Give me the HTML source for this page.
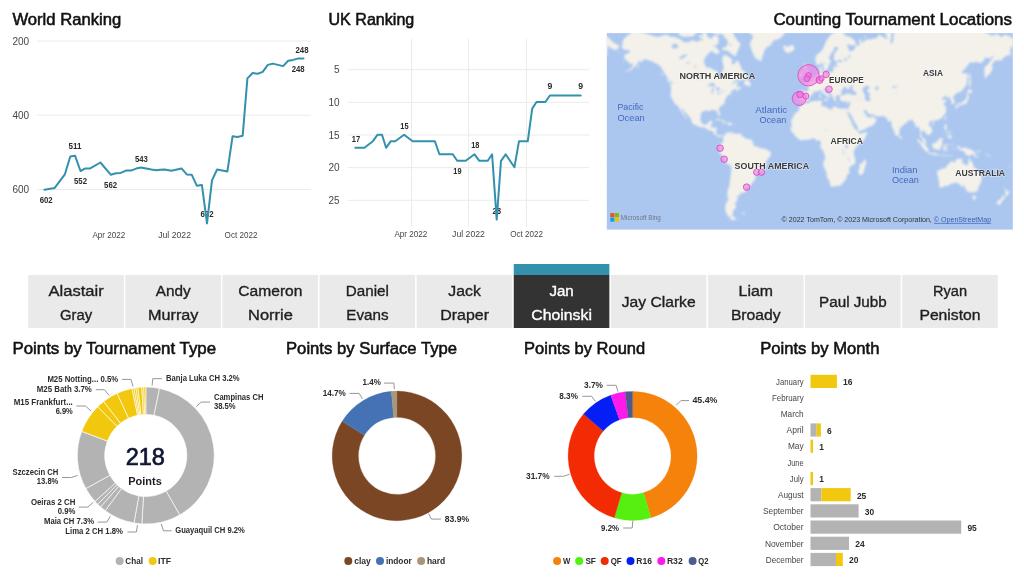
<!DOCTYPE html>
<html lang="en"><head><meta charset="utf-8"><title>Tennis Rankings Dashboard</title>
<style>
html,body{margin:0;padding:0;background:#fff;}
body{width:1024px;height:582px;overflow:hidden;font-family:"Liberation Sans", sans-serif;}
svg{display:block;font-family:"Liberation Sans", sans-serif;}
svg text{white-space:pre;}
.ttl{stroke:currentColor;}
text.ttl{stroke-width:0.55px;stroke:#111111;}
text.sl{paint-order:stroke;stroke-width:0.3px;}
</style></head><body>
<svg width="1024" height="582" viewBox="0 0 1024 582">
<rect width="1024" height="582" fill="#ffffff"/>
<text x="12.4" y="25.0" font-size="16.5" fill="#111111" textLength="108.8" lengthAdjust="spacingAndGlyphs" class="ttl">World Ranking</text>
<text x="328.5" y="25.0" font-size="16.5" fill="#111111" textLength="85.8" lengthAdjust="spacingAndGlyphs" class="ttl">UK Ranking</text>
<text x="1012.0" y="25.0" font-size="16.5" text-anchor="end" fill="#111111" textLength="238.6" lengthAdjust="spacingAndGlyphs" class="ttl">Counting Tournament Locations</text>
<text x="12.4" y="354.3" font-size="16.5" fill="#111111" textLength="203.7" lengthAdjust="spacingAndGlyphs" class="ttl">Points by Tournament Type</text>
<text x="286.0" y="354.3" font-size="16.5" fill="#111111" textLength="171.0" lengthAdjust="spacingAndGlyphs" class="ttl">Points by Surface Type</text>
<text x="524.1" y="354.3" font-size="16.5" fill="#111111" textLength="121.1" lengthAdjust="spacingAndGlyphs" class="ttl">Points by Round</text>
<text x="760.2" y="354.3" font-size="16.5" fill="#111111" textLength="119.2" lengthAdjust="spacingAndGlyphs" class="ttl">Points by Month</text>
<line x1="37" x2="311" y1="41.00" y2="41.00" stroke="#ebebeb" stroke-width="1"/>
<text x="12.5" y="44.6" font-size="10" fill="#484644">200</text>
<line x1="37" x2="311" y1="115.24" y2="115.24" stroke="#ebebeb" stroke-width="1"/>
<text x="12.5" y="118.8" font-size="10" fill="#484644">400</text>
<line x1="37" x2="311" y1="189.48" y2="189.48" stroke="#ebebeb" stroke-width="1"/>
<text x="12.5" y="193.1" font-size="10" fill="#484644">600</text>
<text x="108.8" y="237.8" font-size="8.2" text-anchor="middle" fill="#484644" textLength="32.8" lengthAdjust="spacingAndGlyphs">Apr 2022</text>
<text x="174.6" y="237.8" font-size="8.2" text-anchor="middle" fill="#484644" textLength="32.8" lengthAdjust="spacingAndGlyphs">Jul 2022</text>
<text x="241.0" y="237.8" font-size="8.2" text-anchor="middle" fill="#484644" textLength="32.8" lengthAdjust="spacingAndGlyphs">Oct 2022</text>
<text x="46.2" y="202.6" font-size="8.7" text-anchor="middle" font-weight="bold" fill="#2b2b2b" textLength="13.0" lengthAdjust="spacingAndGlyphs">602</text>
<text x="75.1" y="149.4" font-size="8.7" text-anchor="middle" font-weight="bold" fill="#2b2b2b" textLength="13.0" lengthAdjust="spacingAndGlyphs">511</text>
<text x="80.5" y="183.9" font-size="8.7" text-anchor="middle" font-weight="bold" fill="#2b2b2b" textLength="13.0" lengthAdjust="spacingAndGlyphs">552</text>
<text x="110.6" y="188.1" font-size="8.7" text-anchor="middle" font-weight="bold" fill="#2b2b2b" textLength="13.0" lengthAdjust="spacingAndGlyphs">562</text>
<text x="141.4" y="161.5" font-size="8.7" text-anchor="middle" font-weight="bold" fill="#2b2b2b" textLength="13.0" lengthAdjust="spacingAndGlyphs">543</text>
<text x="207.0" y="216.7" font-size="8.7" text-anchor="middle" font-weight="bold" fill="#2b2b2b" textLength="13.0" lengthAdjust="spacingAndGlyphs">692</text>
<text x="302.0" y="53.0" font-size="8.7" text-anchor="middle" font-weight="bold" fill="#2b2b2b" textLength="13.0" lengthAdjust="spacingAndGlyphs">248</text>
<text x="298.2" y="72.0" font-size="8.7" text-anchor="middle" font-weight="bold" fill="#2b2b2b" textLength="13.0" lengthAdjust="spacingAndGlyphs">248</text>
<polyline fill="none" stroke="#3391AE" stroke-width="2" stroke-linejoin="round" stroke-linecap="round" points="44.4,189.7 54.7,187.9 64.9,174.3 70.3,156.5 75.1,155.8 80.5,171.0 85.4,168.4 90.2,168.4 100.4,162.5 110.9,174.8 115.9,173.3 120.7,172.9 126.0,170.6 131.0,170.6 136.2,168.6 141.1,167.5 151.4,169.5 156.4,170.3 160.0,169.7 164.7,169.5 171.4,170.7 181.5,168.4 186.8,174.4 191.8,174.8 196.9,185.8 201.9,184.9 207.0,223.4 212.0,180.4 217.1,169.5 227.4,171.4 232.6,136.2 237.5,137.0 242.7,135.7 247.4,78.4 252.6,73.0 257.7,73.7 262.7,71.9 267.8,64.9 272.8,63.6 283.1,66.1 288.2,60.8 293.2,59.9 298.5,58.4 303.5,58.4"/>
<line x1="347.8" x2="589" y1="69.70" y2="69.70" stroke="#ebebeb" stroke-width="1"/>
<text x="339.5" y="73.3" font-size="10" text-anchor="end" fill="#484644">5</text>
<line x1="347.8" x2="589" y1="102.35" y2="102.35" stroke="#ebebeb" stroke-width="1"/>
<text x="339.5" y="105.9" font-size="10" text-anchor="end" fill="#484644">10</text>
<line x1="347.8" x2="589" y1="135.00" y2="135.00" stroke="#ebebeb" stroke-width="1"/>
<text x="339.5" y="138.6" font-size="10" text-anchor="end" fill="#484644">15</text>
<line x1="347.8" x2="589" y1="167.65" y2="167.65" stroke="#ebebeb" stroke-width="1"/>
<text x="339.5" y="171.2" font-size="10" text-anchor="end" fill="#484644">20</text>
<line x1="347.8" x2="589" y1="200.30" y2="200.30" stroke="#ebebeb" stroke-width="1"/>
<text x="339.5" y="203.9" font-size="10" text-anchor="end" fill="#484644">25</text>
<line x1="411.6" x2="411.6" y1="39" y2="226.7" stroke="#ebebeb" stroke-width="1"/>
<line x1="468.5" x2="468.5" y1="39" y2="226.7" stroke="#ebebeb" stroke-width="1"/>
<line x1="526.5" x2="526.5" y1="39" y2="226.7" stroke="#ebebeb" stroke-width="1"/>
<text x="410.8" y="237.2" font-size="8.2" text-anchor="middle" fill="#484644" textLength="32.8" lengthAdjust="spacingAndGlyphs">Apr 2022</text>
<text x="468.5" y="237.2" font-size="8.2" text-anchor="middle" fill="#484644" textLength="32.8" lengthAdjust="spacingAndGlyphs">Jul 2022</text>
<text x="526.7" y="237.2" font-size="8.2" text-anchor="middle" fill="#484644" textLength="32.8" lengthAdjust="spacingAndGlyphs">Oct 2022</text>
<text x="355.9" y="141.7" font-size="8.7" text-anchor="middle" font-weight="bold" fill="#2b2b2b" textLength="8.4" lengthAdjust="spacingAndGlyphs">17</text>
<text x="404.4" y="128.5" font-size="8.7" text-anchor="middle" font-weight="bold" fill="#2b2b2b" textLength="8.2" lengthAdjust="spacingAndGlyphs">15</text>
<text x="457.4" y="173.8" font-size="8.7" text-anchor="middle" font-weight="bold" fill="#2b2b2b" textLength="8.2" lengthAdjust="spacingAndGlyphs">19</text>
<text x="475.3" y="148.0" font-size="8.7" text-anchor="middle" font-weight="bold" fill="#2b2b2b" textLength="8.2" lengthAdjust="spacingAndGlyphs">18</text>
<text x="496.8" y="213.5" font-size="8.7" text-anchor="middle" font-weight="bold" fill="#2b2b2b" textLength="8.6" lengthAdjust="spacingAndGlyphs">28</text>
<text x="549.8" y="88.6" font-size="8.7" text-anchor="middle" font-weight="bold" fill="#2b2b2b">9</text>
<text x="580.7" y="88.6" font-size="8.7" text-anchor="middle" font-weight="bold" fill="#2b2b2b">9</text>
<polyline fill="none" stroke="#3391AE" stroke-width="2" stroke-linejoin="round" stroke-linecap="round" points="355.3,147.8 364.4,147.8 372.9,141.2 377.6,134.7 382.0,134.7 386.1,147.8 390.8,141.2 395.2,141.2 404.1,134.7 412.6,141.2 434.9,141.2 439.4,154.3 452.8,154.3 457.2,160.8 465.7,160.8 474.6,154.3 479.3,160.8 487.8,160.8 492.1,154.3 496.7,219.6 501.0,160.8 505.7,154.3 514.4,167.3 519.0,141.2 527.8,141.2 532.2,108.6 536.5,102.0 545.4,102.0 549.9,95.5 580.7,95.5"/>
<g id="map">
<defs><clipPath id="mclip"><rect x="606.8" y="33.1" width="406.0" height="196.5"/></clipPath>
<filter id="mblur" x="-5%" y="-5%" width="110%" height="110%"><feGaussianBlur stdDeviation="0.8"/></filter>
<g id="world">
<path fill="#F3F1EA" d="M621.7,47.2L623.4,39.5L627.3,35.8L632.9,31.5L634.6,29.7L639.7,31.5L644.1,33.1L652.0,35.4L657.6,37.3L660.9,36.1L666.5,34.5L669.9,36.4L675.5,37.3L681.1,39.8L683.3,41.9L688.9,42.2L692.3,40.1L696.8,41.9L700.1,40.1L702.4,40.7L702.9,29.0L705.7,30.8L706.9,35.4L709.1,38.0L711.3,38.9L713.6,35.4L717.5,35.4L718.8,38.9L718.1,43.9L715.3,45.6L713.0,45.3L713.6,50.1L710.8,51.4L708.0,53.9L705.2,57.6L703.7,62.1L704.6,63.8L706.3,67.4L710.2,67.8L713.6,70.1L717.5,71.0L717.8,75.2L719.2,77.1L720.5,78.5L721.6,77.1L721.4,72.4L723.9,68.4L723.1,64.3L722.2,59.9L723.1,55.2L727.0,55.6L730.4,58.3L732.1,59.2L731.7,63.6L734.0,64.7L736.5,61.0L737.7,60.3L740.5,65.8L741.6,69.5L744.9,71.8L746.1,74.3L747.4,76.2L746.6,78.0L742.7,80.3L738.2,80.1L735.4,80.3L732.6,82.7L730.2,86.0L733.2,83.2L737.1,82.0L737.9,83.6L736.5,84.9L737.3,86.9L739.3,87.3L741.2,88.3L742.7,85.9L742.4,87.7L738.8,89.6L736.2,91.3L735.8,90.0L737.3,88.1L734.9,88.8L732.6,90.4L730.9,91.6L730.6,93.1L731.5,94.0L729.3,94.8L727.0,95.7L726.8,97.3L725.7,98.7L724.8,100.6L725.0,102.8L723.9,104.0L722.0,105.2L720.5,106.6L719.0,108.3L718.8,110.3L719.7,112.8L720.2,114.7L719.7,116.3L719.0,116.2L718.3,115.0L717.3,113.1L717.2,111.3L715.8,110.3L714.1,110.5L712.5,109.7L710.8,109.9L709.9,111.3L708.5,111.3L707.1,110.8L704.8,110.6L703.5,111.3L701.5,112.8L700.8,114.7L700.5,117.8L700.4,119.9L701.0,121.7L702.2,123.6L703.5,124.3L704.4,124.8L706.3,124.3L708.0,123.8L708.5,121.7L710.8,120.8L712.5,120.8L711.9,122.9L711.6,124.8L710.4,127.3L713.6,127.5L715.8,127.6L716.7,128.6L716.3,131.4L716.0,133.1L717.2,134.7L718.3,135.4L720.3,135.2L721.4,134.7L723.3,135.8L723.1,137.0L722.2,136.2L720.5,135.8L720.0,137.2L718.6,137.0L716.9,136.2L716.2,135.6L714.7,134.2L713.8,133.7L713.0,132.0L711.9,130.7L709.7,130.2L707.4,129.7L705.5,127.9L704.1,127.1L702.4,127.7L700.1,127.1L697.9,126.2L695.9,125.2L693.6,124.3L691.9,122.9L691.6,120.8L690.8,118.8L688.9,116.2L687.3,114.7L686.1,113.1L684.2,111.7L683.3,109.2L681.4,108.0L681.4,109.6L682.8,111.8L683.9,113.4L685.2,115.9L686.4,117.6L687.3,118.9L686.5,119.0L684.5,116.8L684.2,115.3L682.2,113.7L681.7,112.2L680.2,110.3L679.1,108.0L678.6,106.7L677.4,105.2L674.9,104.3L673.5,101.5L672.7,100.0L671.2,97.3L670.7,95.8L670.7,92.8L671.0,89.7L671.0,86.9L670.2,83.6L672.1,83.6L672.7,85.2L672.7,82.4L671.0,81.0L668.2,78.9L666.5,76.2L664.0,72.4L662.6,69.9L660.4,66.4L658.1,64.3L655.9,63.6L653.3,61.7L649.7,60.8L646.4,59.4L643.8,59.2L642.1,61.4L639.9,62.8L640.6,58.7L638.5,62.1L637.2,64.3L634.6,66.8L632.4,69.1L629.6,70.6L626.8,71.8L625.3,72.2L627.9,69.9L630.1,68.9L632.4,66.4L633.7,63.6L631.8,64.1L628.7,63.6L628.2,61.0L625.7,59.9L624.0,56.8L624.9,54.4L627.3,53.4L629.6,52.4L629.6,49.9L626.8,50.1L623.6,49.6L621.7,47.2ZM720.3,21.2L724.8,25.0L729.3,28.7L733.2,33.1L734.9,37.3L740.5,43.9L738.8,48.8L736.5,53.4L735.4,56.6L733.2,54.9L729.8,52.4L726.5,50.1L722.8,50.4L722.5,48.3L727.0,46.1L728.1,41.0L725.3,38.0L722.0,33.5L718.1,34.5L714.7,33.5L710.2,29.0L709.7,23.5L714.7,20.4L720.3,21.2ZM677.7,27.2L684.5,23.5L690.1,22.4L692.9,29.0L696.2,34.1L692.3,36.4L687.8,36.7L682.8,36.7L679.4,35.1L678.3,32.1L677.7,27.2ZM669.3,27.2L672.1,18.8L678.9,18.8L680.0,23.5L675.5,29.0L671.6,29.7L669.3,27.2ZM712.5,47.5L714.7,45.6L716.4,48.0L719.2,50.9L719.7,52.4L716.9,54.2L714.1,52.9L712.5,51.4L712.5,47.5ZM698.5,36.7L701.3,34.8L702.9,37.3L701.3,38.6L698.5,36.7ZM743.5,84.6L744.6,82.0L745.7,79.6L747.6,77.8L747.3,80.3L749.4,81.5L750.3,83.2L750.8,85.4L749.6,86.2L747.7,85.9L746.6,84.9L743.5,84.6ZM666.2,79.2L668.8,79.9L670.5,81.7L671.7,83.4L669.9,82.9L668.2,81.5L666.2,79.2ZM660.9,73.0L662.4,73.4L663.0,76.2L661.7,74.9ZM636.9,66.4L639.3,65.3L639.1,67.0L637.4,67.8ZM737.7,80.8L740.5,81.7L740.7,82.2L738.4,81.7ZM737.9,86.0L740.5,86.7L739.9,87.3L738.2,86.7ZM714.8,120.4L716.4,119.1L718.6,118.8L720.9,119.4L723.1,120.5L725.0,121.4L726.8,122.3L725.9,122.7L723.1,122.7L723.1,121.9L721.6,120.8L719.2,120.2L717.5,119.6L715.8,120.4L714.8,120.4ZM726.6,124.5L727.9,122.7L729.8,122.7L731.7,123.2L733.3,124.3L731.7,124.5L730.2,125.4L728.7,124.8L726.6,124.5ZM722.2,124.5L723.7,124.4L724.6,125.0L723.4,125.2L722.2,124.8ZM734.6,124.4L736.3,124.5L736.2,125.0L734.6,125.0ZM723.3,135.8L723.9,136.5L725.0,134.8L725.3,133.6L726.7,132.9L728.1,132.6L729.5,131.6L730.0,132.9L729.5,134.2L730.2,135.2L730.4,133.3L731.5,131.8L733.2,132.9L733.7,133.7L736.0,133.6L737.7,134.0L739.9,133.4L741.0,134.2L741.8,135.9L743.8,136.7L745.7,138.8L748.3,138.9L750.8,139.6L752.2,140.6L753.0,143.0L753.9,144.6L752.8,145.5L754.5,145.7L755.8,146.6L757.8,146.7L760.1,148.2L761.7,148.2L763.4,148.7L765.1,148.7L766.8,149.6L768.5,151.0L770.4,151.3L770.9,153.7L770.5,155.8L769.0,157.6L767.9,159.0L766.4,160.4L766.2,163.1L766.0,165.6L765.1,168.1L764.0,170.5L762.9,172.0L761.2,172.1L759.5,172.7L757.8,173.6L756.1,174.9L755.4,176.7L755.4,178.8L753.9,180.7L752.8,182.4L751.4,183.9L750.0,186.0L748.5,187.3L746.8,187.1L744.9,186.4L744.4,186.2L745.7,187.9L746.1,189.5L745.3,191.9L742.7,192.9L740.2,193.0L740.1,195.5L737.1,195.8L737.3,197.9L738.6,198.3L737.1,199.7L736.5,202.1L734.3,203.7L736.0,205.6L736.0,207.3L734.0,210.0L732.6,211.8L733.2,214.5L732.3,215.0L730.6,215.4L730.4,217.3L728.7,216.7L727.6,215.4L726.1,213.0L725.3,209.5L725.3,205.3L726.8,202.1L728.1,200.2L728.4,197.4L727.2,196.7L727.5,193.7L727.5,190.9L728.4,188.1L729.5,185.4L729.8,182.0L729.9,179.5L730.6,176.3L730.9,173.2L731.3,169.6L731.2,166.6L729.9,165.4L728.1,164.2L725.7,162.8L724.4,161.1L723.4,159.0L722.3,156.8L721.2,154.5L720.3,153.1L719.0,152.2L718.8,150.5L720.0,149.3L720.3,148.4L719.2,148.0L719.4,146.6L720.2,145.3L720.3,144.5L721.5,143.8L722.0,142.7L723.3,141.2L723.1,139.3L723.2,137.9L722.7,137.3L723.3,135.8ZM733.1,215.2L733.5,216.3L734.2,217.6L736.9,219.0L735.4,219.8L733.2,220.2L730.9,219.6L729.3,218.2L730.6,217.6L731.3,216.7L731.5,215.6L733.1,215.2ZM741.6,213.0L744.9,212.8L744.4,214.3L741.8,214.1ZM740.6,133.4L741.7,133.3L741.6,134.1L740.6,134.1ZM728.1,-1.8L733.7,10.0L741.6,10.9L744.9,15.4L748.3,25.4L748.9,32.5L752.2,34.8L753.0,37.3L750.0,42.7L750.5,46.9L751.9,50.9L753.9,55.2L755.6,58.7L758.4,59.6L760.1,61.2L761.5,61.0L762.0,57.6L763.4,53.9L764.5,49.9L767.3,46.9L770.7,45.3L773.5,40.4L778.5,39.2L781.3,37.3L784.7,33.5L783.6,29.0L785.3,25.4L786.4,19.6L788.1,10.9L788.6,0.9L789.7,-10.8L776.3,-43.7L742.7,-25.2L728.1,-1.8ZM782.7,47.2L784.7,45.0L786.9,46.9L789.5,45.9L791.8,44.7L793.4,46.1L794.7,48.6L793.1,50.7L790.3,52.2L788.7,52.9L786.9,52.4L784.6,51.9L785.4,50.4L783.0,49.1L785.3,48.0L782.7,47.2ZM803.5,80.5L805.2,79.9L806.5,79.4L808.2,79.4L810.2,79.2L811.5,78.5L810.6,78.0L811.8,75.8L810.2,75.2L810.0,74.1L809.7,72.8L808.3,71.4L807.7,69.7L806.3,69.5L807.1,68.4L807.7,66.2L805.6,66.0L806.3,64.1L804.3,64.1L803.4,66.0L803.6,68.4L803.6,70.6L804.5,71.4L806.0,71.6L806.5,73.7L806.3,74.7L804.9,74.7L805.3,76.4L804.1,77.4L806.3,78.2L805.1,78.7L803.5,80.5ZM803.1,71.0L803.7,72.6L803.0,74.5L802.8,76.5L800.9,77.6L798.9,78.0L798.4,76.7L799.4,74.9L798.7,73.0L800.6,72.2L800.7,71.0L803.1,71.0ZM799.8,100.8L799.3,98.4L800.0,96.3L800.0,93.9L799.5,92.1L800.9,91.0L803.7,91.3L806.0,91.3L807.9,91.4L808.4,89.6L808.6,87.3L807.3,85.4L804.7,84.1L804.7,83.0L806.5,82.7L808.1,82.9L807.9,81.2L808.7,81.7L810.1,81.5L811.6,80.3L811.9,79.1L813.6,78.2L814.7,76.7L815.3,75.2L817.5,74.3L819.2,73.7L819.8,72.8L819.5,70.4L819.0,68.2L819.4,67.2L821.7,66.0L821.3,68.4L822.0,69.5L821.1,71.0L820.8,71.8L822.2,73.0L823.7,72.6L825.4,73.2L825.9,73.6L828.2,72.8L830.4,71.8L831.7,72.6L832.3,71.6L833.4,70.8L833.4,67.8L834.2,66.2L835.3,66.0L836.0,67.4L837.1,67.0L837.1,64.7L836.2,63.8L836.2,62.8L838.5,61.9L841.3,62.1L842.9,61.0L841.3,59.9L839.0,60.1L837.3,61.0L835.4,61.2L833.9,59.4L834.0,57.3L833.8,55.2L835.1,52.4L837.9,48.8L838.2,47.2L836.2,46.7L834.5,47.2L833.8,50.1L831.7,52.7L829.8,55.4L829.2,58.7L831.0,61.0L830.1,63.2L828.6,64.9L828.4,67.4L827.6,69.3L826.1,69.7L825.8,70.6L824.5,70.6L824.1,68.9L823.1,66.0L822.4,63.4L821.8,62.1L820.9,63.2L819.4,64.9L817.7,65.3L816.2,63.8L815.5,61.0L815.5,58.3L815.7,55.9L817.7,54.2L819.8,52.2L821.7,50.7L823.3,48.0L824.5,45.3L826.1,41.3L827.8,38.6L829.5,36.4L831.7,34.1L835.1,32.1L838.5,30.4L841.8,30.8L844.6,33.1L843.5,34.8L846.9,36.1L850.2,37.0L855.3,41.0L856.0,43.9L854.7,45.6L851.9,45.3L848.5,44.5L846.9,44.5L848.5,48.8L848.9,50.4L851.9,51.7L852.5,49.9L854.7,49.9L854.7,47.5L856.9,45.0L859.2,45.9L859.5,41.9L859.2,38.9L861.4,39.5L861.4,43.6L863.7,41.6L867.0,39.2L870.4,39.5L873.7,38.6L877.1,38.0L878.2,34.8L881.6,36.1L884.9,38.0L887.2,39.5L886.4,35.8L884.9,31.5L884.9,25.4L888.3,22.4L891.7,29.0L891.1,37.3L890.5,43.3L892.6,43.3L893.3,38.9L894.5,27.2L899.5,21.6L907.3,15.4L921.9,3.6L936.5,19.6L949.9,21.6L955.5,30.8L966.7,25.0L977.9,29.0L989.1,34.1L991.3,35.4L998.1,34.1L1000.9,37.3L1004.8,34.8L1009.3,36.1L1011.5,37.6L1014.9,41.0L1017.7,43.3L1021.0,45.0L1023.0,45.9L1021.6,47.5L1019.9,50.1L1016.5,49.4L1013.2,47.5L1012.1,45.6L1010.4,48.3L1011.5,49.1L1009.8,50.1L1010.9,55.2L1008.1,55.2L1004.8,56.8L1002.5,58.7L1000.9,61.0L998.1,59.9L995.8,61.0L994.1,61.0L993.0,63.6L991.3,65.6L992.7,66.2L992.2,69.1L991.3,71.4L989.1,74.9L987.4,75.6L985.4,78.9L984.3,74.3L984.1,69.5L985.2,66.4L987.4,64.9L990.8,60.3L993.0,57.6L993.6,55.2L989.7,58.7L985.7,57.3L982.9,61.7L980.1,63.2L977.3,61.9L973.4,62.5L970.1,62.5L967.3,65.8L964.5,69.5L961.4,72.0L963.9,73.7L966.1,73.0L967.8,75.2L967.0,78.9L967.3,83.2L965.6,86.0L963.3,88.9L961.4,91.3L958.9,92.5L956.4,93.1L955.2,94.8L952.7,97.0L953.8,99.0L954.8,101.1L954.6,103.3L952.7,104.0L951.4,104.3L951.6,102.2L951.9,100.8L949.9,99.7L950.2,97.3L949.1,96.7L946.5,98.0L945.6,97.3L946.5,95.7L945.2,95.4L943.0,97.7L941.7,98.3L943.0,100.1L945.2,99.7L947.1,100.6L944.9,102.2L943.4,103.6L944.6,105.2L946.3,107.9L945.4,109.3L946.5,110.5L946.0,112.4L944.3,114.5L943.2,116.2L941.5,118.0L939.8,119.3L937.6,119.9L935.3,120.5L933.4,121.2L933.1,122.3L932.3,120.8L930.9,120.7L929.3,122.4L928.4,123.8L929.4,125.8L931.2,127.3L932.2,130.2L932.0,132.5L930.3,133.8L929.2,134.8L927.5,135.7L927.3,134.2L925.6,133.3L924.7,131.7L922.9,130.2L921.9,130.5L921.7,132.5L921.0,134.2L921.9,135.9L922.6,137.6L924.1,138.5L925.5,140.1L925.8,142.1L926.6,143.8L925.7,143.9L923.6,142.4L922.8,141.0L922.2,139.0L921.3,137.4L920.0,136.5L920.2,134.5L920.4,132.5L920.0,130.2L919.3,128.5L919.1,126.8L917.4,126.8L916.6,127.6L915.5,127.0L915.5,125.0L914.6,123.2L913.2,121.7L912.4,119.6L911.3,119.9L909.6,120.5L907.6,121.1L907.1,122.3L905.3,123.2L903.8,124.8L902.1,126.6L900.1,127.6L899.6,129.1L899.8,130.8L899.3,132.5L899.3,133.9L898.4,135.2L897.5,135.5L896.7,136.4L895.6,135.4L894.8,133.1L893.7,130.8L893.0,128.5L892.0,126.8L891.4,123.8L891.3,121.7L891.1,120.2L889.6,121.7L888.3,121.4L887.2,120.0L888.3,119.0L886.6,118.4L885.3,117.2L884.4,116.1L881.6,116.2L878.8,116.4L876.0,116.1L874.1,115.7L873.5,114.1L871.5,114.5L869.8,114.3L868.1,113.2L866.8,111.7L865.9,110.1L864.6,110.0L863.7,110.9L864.2,112.4L865.7,114.3L866.1,115.6L866.8,116.8L867.4,115.2L867.7,116.6L867.9,117.6L870.4,117.7L872.1,116.2L873.0,115.0L873.1,116.8L874.3,118.0L875.8,118.4L876.9,119.7L875.4,122.0L874.6,123.8L873.2,125.0L871.5,125.9L868.7,127.1L865.9,128.6L863.7,129.7L861.4,130.5L860.3,131.0L858.6,131.2L858.1,129.9L857.8,127.9L856.9,125.6L855.6,123.8L853.9,121.4L853.4,119.0L851.7,116.8L850.8,114.7L849.1,112.8L848.9,111.0L848.3,112.8L847.4,112.4L846.5,110.4L846.2,108.7L847.8,108.8L848.5,108.2L849.1,106.6L849.7,105.0L850.1,102.9L850.3,101.4L849.4,101.4L847.8,102.0L846.3,102.1L844.6,101.1L843.5,101.8L841.6,101.3L840.6,100.4L839.5,98.7L839.9,97.3L839.2,96.5L840.7,96.0L842.4,95.8L842.7,94.8L845.2,94.8L847.4,93.6L849.3,93.6L851.1,94.6L853.0,95.1L855.0,95.1L856.4,94.2L856.4,92.7L854.7,91.3L853.0,90.0L851.7,88.6L852.8,87.0L853.6,85.4L851.9,85.7L849.4,86.7L850.0,88.3L848.5,89.3L847.4,89.7L846.5,88.0L845.2,86.4L844.1,87.0L843.2,88.6L842.2,89.7L841.5,91.6L840.8,92.8L841.5,94.2L842.4,94.8L841.3,95.1L839.9,95.5L839.0,95.2L837.3,95.2L836.4,96.1L835.4,96.0L835.3,97.3L835.9,98.0L836.8,99.1L835.9,99.6L836.0,100.3L835.4,101.4L834.5,101.1L833.8,99.9L833.6,99.0L835.1,99.1L833.4,98.3L832.5,97.1L831.6,95.8L831.7,93.9L830.6,92.8L828.9,91.7L827.3,90.5L826.5,88.8L825.4,88.9L825.2,87.8L823.8,88.3L823.7,90.0L825.0,91.1L825.8,93.1L827.8,93.7L829.5,95.1L830.6,96.3L829.5,96.1L828.6,97.3L829.1,98.0L828.2,99.0L827.5,99.4L827.8,98.0L827.5,96.5L826.1,95.5L824.5,94.6L823.1,93.3L821.7,92.2L821.3,90.8L820.0,89.9L818.9,90.7L817.7,91.1L816.6,91.9L815.3,91.4L814.2,91.3L813.4,92.5L813.5,93.9L812.1,94.6L810.8,95.4L809.7,97.1L810.1,98.3L809.2,99.1L808.2,100.6L807.4,101.1L805.0,101.3L803.7,102.1L802.8,101.3L802.1,100.6L800.9,100.8L799.8,100.8ZM899.5,134.5L900.8,135.9L901.6,137.3L901.2,138.4L900.1,138.9L899.4,138.1L899.3,136.3L899.5,134.5ZM823.9,99.4L825.0,99.1L827.4,99.1L826.9,100.8L826.7,101.3L825.4,100.7L823.9,100.0ZM819.1,95.2L820.2,94.8L820.9,95.8L820.7,97.7L820.0,98.0L819.4,97.9L819.3,96.5ZM819.5,93.0L820.4,92.1L820.5,93.6L820.3,94.5L819.8,94.2ZM836.2,102.8L837.9,103.1L839.4,103.2L839.2,103.6L837.3,103.7L836.2,103.3ZM846.1,103.6L846.9,103.1L848.7,102.6L848.0,103.6L846.9,104.2ZM812.6,97.1L813.5,96.7L813.7,97.3L813.1,97.6ZM822.4,70.1L823.9,69.3L823.9,70.8L823.1,71.8L822.3,71.0ZM820.9,70.4L821.9,70.4L821.9,71.4L821.1,71.2ZM830.3,66.8L831.2,65.6L831.0,66.8L830.4,67.6ZM834.4,64.7L835.7,64.1L835.7,64.9L834.5,65.3ZM969.3,72.8L970.1,74.5L970.4,77.1L970.4,79.8L971.2,82.0L970.1,84.1L970.6,86.0L970.5,87.0L969.6,86.2L968.9,87.3L968.8,84.9L969.2,82.4L969.1,79.8L968.7,77.4L968.7,74.7L969.3,72.8ZM967.0,94.3L968.0,93.9L967.8,92.8L970.3,93.6L971.7,92.1L973.0,91.6L972.3,90.5L971.5,90.5L970.1,89.6L968.9,88.1L968.6,89.7L968.3,91.6L967.1,91.7L966.6,92.8L967.0,94.3ZM956.5,105.0L957.7,105.0L958.9,104.6L960.5,104.0L961.4,104.2L961.3,105.2L962.0,105.6L963.1,104.4L963.9,104.2L965.4,104.0L965.8,103.3L966.5,103.6L967.6,102.6L967.4,101.1L967.8,99.4L968.4,98.7L968.9,97.3L968.7,95.8L968.3,94.5L967.6,94.3L967.0,95.1L966.7,96.5L966.6,98.0L966.0,99.1L965.0,100.4L963.7,101.1L963.6,100.1L963.1,100.7L963.0,101.4L962.2,102.4L961.7,102.8L960.0,102.9L958.6,102.9L957.5,104.0L956.6,104.4L956.5,105.0ZM956.5,105.1L957.4,105.5L957.7,106.3L957.2,108.2L956.3,108.8L955.7,108.6L955.8,107.2L955.2,106.6L955.3,105.8L956.5,105.1ZM958.3,105.1L959.4,105.0L960.4,104.6L960.8,105.2L960.2,105.8L959.1,106.3L958.3,106.4L958.2,105.8ZM945.4,116.3L946.4,116.6L946.0,118.4L945.3,120.2L944.5,119.0L944.6,117.4L945.4,116.3ZM931.6,123.5L933.1,122.5L934.2,123.0L933.7,124.2L932.5,124.8L931.6,124.3ZM945.0,124.4L946.8,124.4L947.0,126.2L946.1,127.9L946.2,129.3L947.7,129.9L948.8,130.8L948.8,131.3L947.7,130.7L946.9,130.1L945.4,130.0L945.0,129.3L944.5,128.7L944.2,127.3L944.7,125.6ZM946.5,137.6L946.8,136.5L948.2,135.8L949.6,135.8L950.5,134.5L951.4,135.6L951.6,137.3L951.2,138.4L950.5,139.0L950.2,137.9L949.0,138.4L948.8,137.3L947.7,137.1L946.5,137.6ZM949.1,131.4L950.5,131.6L950.7,132.9L949.9,134.0L949.7,133.1L949.1,132.5ZM946.9,132.2L947.9,132.5L948.2,133.7L947.7,135.2L947.1,134.2L946.5,133.7ZM941.2,135.9L942.6,134.8L944.0,132.8L943.5,133.9L942.1,135.4ZM944.7,130.4L945.8,130.5L945.9,131.5L945.3,131.6ZM932.0,143.7L933.4,143.5L934.6,143.8L934.8,142.7L936.5,141.9L937.6,140.5L939.3,139.3L940.7,137.6L941.7,138.2L943.4,139.6L942.3,140.7L941.7,141.6L942.1,143.3L943.2,144.4L941.8,144.6L941.5,146.4L940.4,147.5L940.2,148.9L939.8,150.0L938.3,150.1L937.0,149.2L935.3,149.3L933.4,148.7L933.1,147.2L932.2,146.1L932.0,144.9L932.0,143.7ZM916.6,139.2L919.1,139.7L920.4,141.2L922.2,142.5L923.6,143.3L925.3,144.8L926.4,146.6L927.5,148.1L928.6,148.9L928.5,152.0L927.1,152.0L925.3,150.7L923.6,148.9L922.5,147.2L921.0,145.2L920.2,143.5L918.5,141.9L916.6,139.2ZM927.7,153.1L928.6,152.2L929.5,152.2L931.4,153.0L933.7,153.2L934.1,152.7L936.2,153.2L938.1,154.2L938.1,155.3L935.9,154.9L933.7,154.7L930.9,154.3L929.2,153.8L927.7,153.1ZM944.1,144.6L945.2,144.0L947.7,144.5L949.3,144.0L950.1,143.7L949.3,145.1L947.7,145.1L945.4,144.9L944.5,146.5L946.0,146.5L948.0,146.5L947.4,147.2L946.1,147.6L947.1,149.2L947.4,150.2L947.2,151.4L946.2,150.8L945.6,149.4L945.3,148.5L944.6,148.9L944.7,151.7L943.7,151.7L943.7,149.4L943.1,148.5L944.1,145.6L944.1,144.6ZM948.2,157.1L949.9,155.6L952.1,154.9L951.6,155.6L949.3,156.9ZM939.8,154.9L942.1,154.7L944.3,154.8L947.4,154.7L947.1,155.4L944.3,155.4L942.1,155.4L939.8,155.5ZM938.1,154.6L939.5,154.7L938.9,155.4ZM952.7,143.3L953.3,144.4L954.0,144.2L953.3,145.5L953.3,146.4L952.7,144.9ZM953.3,148.9L954.9,148.6L956.4,149.2L954.9,149.4L953.3,149.3ZM951.0,149.1L952.4,149.2L951.9,149.8L951.1,149.5ZM956.6,146.4L958.3,145.9L960.0,146.4L960.2,148.1L961.1,149.2L962.2,148.1L964.2,147.2L966.1,147.9L967.8,148.4L970.1,149.3L971.7,149.8L973.2,151.1L974.3,152.0L975.4,152.3L974.8,153.1L975.1,154.3L976.2,155.6L977.7,156.5L978.7,157.3L977.3,157.2L975.7,157.0L974.5,156.2L973.4,154.7L972.1,154.2L970.6,154.8L970.1,155.8L968.4,155.8L966.7,154.7L965.6,154.6L964.5,154.9L965.4,153.4L964.7,151.8L962.8,150.8L961.1,150.4L959.4,150.0L958.6,149.9L958.6,148.7L960.0,148.1L958.3,148.0L957.2,147.2L956.6,146.4ZM976.0,151.9L977.9,151.2L980.1,150.2L980.5,151.0L979.0,152.2L977.3,152.5L976.0,151.9ZM978.8,148.4L980.1,149.2L981.3,150.5L980.8,150.0L979.6,148.9ZM985.2,153.0L987.4,154.3L989.7,155.8L991.1,157.1L989.3,156.3L986.9,154.7ZM996.5,162.5L997.3,163.1L997.5,164.1L996.7,163.3ZM993.6,168.5L995.3,169.6L996.9,171.1L996.2,171.1L994.5,169.9ZM1008.5,165.4L1009.9,165.4L1009.8,166.2L1008.5,166.1ZM937.2,171.0L937.0,173.2L937.8,175.9L938.5,178.8L938.9,181.4L939.5,183.4L938.8,186.3L940.4,187.4L942.1,187.4L944.3,185.9L946.5,185.9L948.4,185.8L949.3,184.7L951.0,183.8L953.3,183.4L954.9,182.8L956.8,182.7L958.3,183.4L960.0,184.4L961.3,186.7L962.2,187.1L963.9,184.7L964.5,185.4L963.9,187.4L965.0,188.1L966.1,188.8L966.7,190.9L968.4,192.1L970.6,192.7L972.1,191.6L973.8,193.0L975.4,191.4L977.7,190.9L978.1,188.8L978.8,187.1L979.6,184.7L981.0,182.7L981.5,180.1L981.8,178.2L981.4,175.7L981.0,174.7L979.6,173.2L978.8,171.7L977.3,170.8L976.6,169.0L975.1,167.7L973.6,167.1L973.2,164.8L972.6,162.5L971.7,161.6L970.8,161.7L970.3,159.6L969.6,157.7L968.9,158.5L968.6,160.2L968.4,162.5L967.8,164.6L966.7,165.6L965.6,164.8L964.2,163.7L962.8,163.1L961.7,162.3L962.2,160.8L963.1,159.3L961.7,159.0L960.0,159.0L958.3,158.5L957.2,159.3L956.1,159.6L955.3,161.1L954.9,162.4L953.6,162.4L952.7,161.3L951.0,161.3L949.9,162.8L949.1,164.0L947.7,164.6L946.8,165.2L946.8,166.6L945.4,167.9L943.7,168.4L942.1,168.8L940.7,169.2L939.3,170.2L937.9,170.5L937.2,171.0ZM972.0,195.6L974.0,196.1L975.9,195.8L976.0,197.4L975.4,199.3L974.0,199.9L972.9,198.6L972.5,197.4L972.0,195.6ZM1003.3,186.7L1004.6,187.8L1005.5,189.2L1006.5,189.5L1006.9,190.9L1008.4,191.4L1009.7,191.1L1009.1,193.0L1008.1,193.6L1008.0,194.9L1006.5,196.8L1005.6,196.4L1006.0,194.7L1005.5,194.2L1004.6,193.4L1005.5,192.6L1005.7,190.9L1005.1,189.5L1003.9,187.8L1003.3,186.7ZM1003.3,195.2L1003.9,196.2L1005.1,196.7L1004.6,198.2L1003.5,199.7L1002.0,200.8L1001.4,202.5L1001.1,203.7L999.7,204.6L998.1,204.5L996.5,203.7L996.7,202.4L998.3,200.6L1000.1,199.6L1001.4,198.3L1002.3,196.8L1002.8,195.6L1003.3,195.2ZM803.3,102.5L804.0,102.4L805.1,103.3L806.7,103.2L807.7,103.5L809.3,102.5L811.0,101.5L813.3,101.0L815.5,101.1L818.3,100.8L820.9,100.4L821.5,101.1L822.2,100.8L821.8,102.9L821.2,104.6L822.2,106.0L823.9,106.6L825.8,106.7L827.0,107.2L827.8,108.6L829.5,109.1L831.2,109.9L832.3,109.0L832.3,107.2L834.0,106.4L835.7,106.8L837.7,107.8L839.6,108.3L841.8,109.0L843.5,108.4L844.6,108.2L846.1,108.7L846.4,110.3L846.2,110.9L847.1,112.6L848.0,114.7L849.1,117.2L849.9,119.0L851.2,120.5L851.6,122.6L851.8,124.1L853.0,125.0L853.9,127.9L855.3,128.7L856.7,130.2L858.1,131.3L858.4,132.3L859.5,133.7L861.4,133.3L864.2,132.8L866.5,132.1L867.2,132.1L867.1,133.7L866.3,135.4L865.3,137.6L864.2,139.7L862.5,141.9L860.9,143.3L858.6,144.8L856.9,146.4L855.8,147.7L854.9,148.7L854.3,150.5L853.5,152.2L854.1,153.9L853.9,155.6L854.7,157.3L855.4,159.6L855.5,161.9L854.9,163.7L853.6,164.7L851.6,165.6L850.2,167.1L848.9,168.3L849.3,170.2L849.7,172.6L848.5,174.2L846.9,175.1L846.6,176.9L846.3,178.8L844.8,180.5L843.5,182.4L841.8,184.3L840.1,185.6L838.5,186.0L836.2,186.0L834.5,186.3L832.3,187.1L831.0,186.4L830.4,186.3L830.3,184.4L829.8,182.7L828.9,180.1L828.0,178.8L826.9,176.7L826.6,174.4L826.1,171.7L825.0,169.3L823.7,166.9L823.1,164.8L823.3,162.7L824.2,160.4L825.2,158.8L825.0,156.8L824.5,155.1L823.7,152.5L823.6,151.7L822.8,150.2L821.7,148.9L820.5,148.0L820.0,146.6L820.3,145.2L820.9,143.8L820.8,142.1L820.3,141.0L819.4,140.3L817.7,140.6L816.6,140.7L815.8,139.7L814.7,138.4L812.7,138.4L811.0,138.9L809.3,139.6L807.7,140.1L806.2,139.8L804.5,139.7L803.0,140.1L801.4,140.6L799.8,139.9L798.1,138.5L797.0,137.8L795.6,136.7L795.0,135.4L793.7,133.9L793.1,133.1L791.4,131.6L791.1,130.2L790.3,128.9L791.4,127.3L791.6,125.6L791.9,123.8L791.1,121.7L790.9,121.2L791.8,119.0L793.1,117.2L793.7,115.3L794.8,113.7L795.6,112.8L797.4,111.8L798.7,110.9L799.0,109.6L798.9,108.3L799.8,106.6L801.2,105.5L802.4,104.7L803.2,103.2L803.3,102.5ZM865.1,159.0L865.9,160.8L866.3,163.1L865.6,164.2L865.3,166.0L864.6,168.4L863.7,171.4L862.8,174.2L861.4,174.8L860.3,175.1L859.2,174.4L858.6,172.6L858.4,170.8L859.2,169.0L859.6,167.8L859.2,165.8L859.7,164.0L861.4,163.4L862.9,162.3L863.7,160.8L864.6,159.6L865.1,159.0ZM869.6,131.3L870.9,131.3L870.4,131.6ZM791.0,112.3L791.9,112.0L791.5,112.8ZM963.3,13.2L972.3,10.9L977.9,15.4L968.9,21.6ZM1009.8,29.0L1013.7,29.7L1012.6,31.5L1010.2,31.1ZM867.6,29.0L871.5,32.1L874.3,31.8L872.6,25.4L877.1,15.4L886.1,6.1L877.1,9.5L871.5,19.6L867.6,29.0ZM864.0,36.4L865.3,35.8L865.9,37.3L864.8,38.3ZM617.6,52.2L620.1,53.2L620.8,53.7L618.9,52.2ZM622.5,60.5L624.3,60.3L624.2,61.4L622.9,61.2ZM635.2,122.4L636.3,122.9L635.6,123.8L635.2,123.1ZM973.4,89.7L976.2,88.1L976.8,87.5L974.5,89.3ZM819.5,141.2L819.9,141.6L819.4,141.8ZM853.8,152.0L854.1,152.5L853.9,152.7ZM913.7,130.2L914.1,131.4L913.7,132.4L913.5,131.4Z"/>
<path fill="#ABC7F0" d="M865.3,100.3L867.0,101.1L870.3,101.0L870.2,98.7L869.3,97.3L869.0,95.2L870.9,94.3L869.8,93.3L868.7,92.8L867.6,91.3L867.0,89.7L869.3,88.5L869.3,86.2L867.0,85.7L864.8,86.5L863.1,88.1L862.3,89.7L863.2,92.1L864.2,93.9L865.3,95.8L864.8,98.0L864.8,99.0L865.3,100.3ZM875.4,86.9L877.1,86.2L878.8,87.0L878.2,89.3L876.5,90.8L875.4,89.7ZM706.9,86.2L709.1,84.4L711.0,83.0L713.6,82.9L714.9,84.4L715.3,86.5L713.0,86.5L711.3,85.9L708.5,86.4L706.9,86.2ZM711.7,94.0L712.7,93.9L713.4,92.1L713.2,89.7L714.5,88.5L714.7,87.5L713.0,87.7L711.6,89.3L711.7,91.6L711.5,93.1L711.7,94.0ZM715.1,87.5L716.9,87.2L719.0,87.5L720.3,88.6L720.3,89.7L718.8,89.6L718.4,91.7L717.5,91.9L717.2,90.5L716.0,90.8L716.5,89.7L716.6,88.5L715.1,87.5ZM716.5,93.9L717.5,94.5L719.2,94.0L721.4,92.7L721.4,92.2L719.7,92.7L718.1,93.1L716.5,93.9ZM720.5,91.6L722.5,90.7L724.4,90.4L724.6,91.3L723.1,91.6L721.4,91.7ZM699.0,73.7L700.4,73.7L702.0,78.9L701.5,80.1L700.9,78.0L699.6,75.6ZM671.0,46.1L674.4,43.3L677.7,44.7L678.3,46.9L675.5,48.8L672.7,48.0ZM678.9,58.7L681.1,55.9L684.5,54.4L687.8,54.4L685.6,56.4L683.3,58.0L681.1,59.2ZM685.0,63.8L687.8,62.1L691.2,62.5L687.8,63.2ZM845.5,145.2L846.9,144.9L848.2,145.7L847.8,147.7L846.9,148.6L845.7,148.3L845.4,146.6ZM842.7,149.3L843.5,151.1L844.4,153.4L844.6,155.3L843.8,154.5L843.1,152.2L842.5,150.5ZM848.0,156.2L848.8,157.9L849.3,160.2L849.1,161.7L848.5,160.8L848.2,158.5ZM926.2,77.8L927.5,77.8L929.5,76.2L931.4,74.3L933.1,70.4L932.2,69.9L930.9,72.4L929.2,74.7L927.3,77.1ZM892.2,86.5L893.9,86.0L896.1,86.2L898.4,86.0L897.8,86.9L895.0,87.3L892.8,88.5ZM844.1,60.3L845.2,57.6L846.9,58.3L846.6,60.3L845.2,61.2ZM848.5,54.7L850.0,55.2L850.6,58.0L849.4,58.9L848.7,56.8ZM823.9,63.4L825.4,62.5L825.6,64.1L824.5,64.5ZM731.5,162.8L732.3,163.1L732.8,164.1L732.1,164.0ZM713.6,131.8L714.7,132.2L714.9,133.0L713.9,132.8ZM825.0,130.1L826.4,130.1L826.1,131.2L825.1,131.0ZM850.0,140.5L850.7,141.0L850.9,142.6L850.2,142.1ZM729.3,43.9L731.5,43.9L731.3,45.6L729.8,46.1ZM694.5,65.3L696.2,65.8L695.7,68.4L694.8,67.4ZM697.6,75.6L698.7,76.2L699.9,79.8L699.2,80.1L698.1,77.4ZM895.2,92.8L897.6,92.4L897.0,93.3L895.6,93.3ZM860.3,99.0L861.2,99.4L861.3,100.6L860.6,100.4ZM857.5,98.3L858.6,98.1L858.4,99.0L857.6,98.9ZM957.7,88.6L958.6,88.6L958.4,89.6L957.9,89.4ZM920.8,17.5L926.4,16.2L925.3,18.8Z"/>
</g></defs>
<rect x="606.8" y="33.1" width="406.0" height="196.5" fill="#ABC7F0"/>
<g clip-path="url(#mclip)"><g filter="url(#mblur)">
<use href="#world"/><use href="#world" transform="translate(-403.2,0)"/><use href="#world" transform="translate(403.2,0)"/>
</g>
<circle cx="808.5" cy="75.3" r="10.7" fill="#F283E3" fill-opacity="0.68" stroke="#D648BE" stroke-opacity="0.9" stroke-width="0.9"/>
<circle cx="808.5" cy="75.5" r="2.9" fill="#F570E0" fill-opacity="0.75" stroke="#D648BE" stroke-opacity="0.9" stroke-width="0.9"/>
<circle cx="806.9" cy="78.6" r="2.9" fill="#F570E0" fill-opacity="0.75" stroke="#D648BE" stroke-opacity="0.9" stroke-width="0.9"/>
<circle cx="819.5" cy="80.0" r="3.5" fill="#F570E0" fill-opacity="0.75" stroke="#D648BE" stroke-opacity="0.9" stroke-width="0.9"/>
<circle cx="821.6" cy="78.3" r="2.6" fill="#F283E3" fill-opacity="0.68" stroke="#D648BE" stroke-opacity="0.9" stroke-width="0.9"/>
<circle cx="826.1" cy="74.4" r="3.2" fill="#F283E3" fill-opacity="0.68" stroke="#D648BE" stroke-opacity="0.9" stroke-width="0.9"/>
<circle cx="829" cy="89.2" r="3.3" fill="#F283E3" fill-opacity="0.68" stroke="#D648BE" stroke-opacity="0.9" stroke-width="0.9"/>
<circle cx="799.2" cy="98.5" r="7" fill="#F283E3" fill-opacity="0.68" stroke="#D648BE" stroke-opacity="0.9" stroke-width="0.9"/>
<circle cx="800.1" cy="94.5" r="3.2" fill="#F570E0" fill-opacity="0.75" stroke="#D648BE" stroke-opacity="0.9" stroke-width="0.9"/>
<circle cx="805.9" cy="96.1" r="3.1" fill="#F283E3" fill-opacity="0.68" stroke="#D648BE" stroke-opacity="0.9" stroke-width="0.9"/>
<circle cx="720.1" cy="148.2" r="3.3" fill="#F283E3" fill-opacity="0.68" stroke="#D648BE" stroke-opacity="0.9" stroke-width="0.9"/>
<circle cx="724.2" cy="159.2" r="3.3" fill="#F283E3" fill-opacity="0.68" stroke="#D648BE" stroke-opacity="0.9" stroke-width="0.9"/>
<circle cx="756.7" cy="172.2" r="3.2" fill="#F283E3" fill-opacity="0.68" stroke="#D648BE" stroke-opacity="0.9" stroke-width="0.9"/>
<circle cx="761.5" cy="172.2" r="3.2" fill="#F283E3" fill-opacity="0.68" stroke="#D648BE" stroke-opacity="0.9" stroke-width="0.9"/>
<circle cx="746.6" cy="187.1" r="3.3" fill="#F283E3" fill-opacity="0.68" stroke="#D648BE" stroke-opacity="0.9" stroke-width="0.9"/>
<text x="679.5" y="78.7" font-size="9.3" font-weight="bold" fill="#3a3a3a" textLength="75.8" lengthAdjust="spacingAndGlyphs" stroke="#ffffff" stroke-opacity="0.6" stroke-width="1.2" paint-order="stroke" stroke-linejoin="round">NORTH AMERICA</text>
<text x="829.0" y="82.8" font-size="9.3" font-weight="bold" fill="#3a3a3a" textLength="34.8" lengthAdjust="spacingAndGlyphs" stroke="#ffffff" stroke-opacity="0.6" stroke-width="1.2" paint-order="stroke" stroke-linejoin="round">EUROPE</text>
<text x="923.0" y="75.8" font-size="9.3" font-weight="bold" fill="#3a3a3a" textLength="19.9" lengthAdjust="spacingAndGlyphs" stroke="#ffffff" stroke-opacity="0.6" stroke-width="1.2" paint-order="stroke" stroke-linejoin="round">ASIA</text>
<text x="830.6" y="143.7" font-size="9.3" font-weight="bold" fill="#3a3a3a" textLength="32.3" lengthAdjust="spacingAndGlyphs" stroke="#ffffff" stroke-opacity="0.6" stroke-width="1.2" paint-order="stroke" stroke-linejoin="round">AFRICA</text>
<text x="734.6" y="168.9" font-size="9.3" font-weight="bold" fill="#3a3a3a" textLength="74.5" lengthAdjust="spacingAndGlyphs" stroke="#ffffff" stroke-opacity="0.6" stroke-width="1.2" paint-order="stroke" stroke-linejoin="round">SOUTH AMERICA</text>
<text x="955.3" y="176.0" font-size="9.3" font-weight="bold" fill="#3a3a3a" textLength="49.7" lengthAdjust="spacingAndGlyphs" stroke="#ffffff" stroke-opacity="0.6" stroke-width="1.2" paint-order="stroke" stroke-linejoin="round">AUSTRALIA</text>
<text x="617.4" y="109.7" font-size="8.6" font-weight="normal" fill="#4668BC" textLength="26.1" lengthAdjust="spacingAndGlyphs">Pacific</text>
<text x="617.4" y="120.5" font-size="8.6" font-weight="normal" fill="#4668BC" textLength="27.3" lengthAdjust="spacingAndGlyphs">Ocean</text>
<text x="755.3" y="113.0" font-size="8.6" font-weight="normal" fill="#4668BC" textLength="31.9" lengthAdjust="spacingAndGlyphs">Atlantic</text>
<text x="759.4" y="123.4" font-size="8.6" font-weight="normal" fill="#4668BC" textLength="26.9" lengthAdjust="spacingAndGlyphs">Ocean</text>
<text x="891.9" y="173.1" font-size="8.6" font-weight="normal" fill="#4668BC" textLength="25.7" lengthAdjust="spacingAndGlyphs">Indian</text>
<text x="891.9" y="183.4" font-size="8.6" font-weight="normal" fill="#4668BC" textLength="26.9" lengthAdjust="spacingAndGlyphs">Ocean</text>
<rect x="610.3" y="213.1" width="4.1" height="4.1" fill="#F25022"/>
<rect x="614.8" y="213.1" width="4.1" height="4.1" fill="#7FBA00"/>
<rect x="610.3" y="217.6" width="4.1" height="4.1" fill="#00A4EF"/>
<rect x="614.8" y="217.6" width="4.1" height="4.1" fill="#FFB900"/>
<text x="620.8" y="220.0" font-size="7" font-weight="normal" fill="#6f7682" textLength="40.1" lengthAdjust="spacingAndGlyphs">Microsoft Bing</text>
<text x="781.6" y="221.9" font-size="7" fill="#333333" textLength="209.5" lengthAdjust="spacingAndGlyphs">© 2022 TomTom, © 2023 Microsoft Corporation, <tspan fill="#3a5fb0" text-decoration="underline">© OpenStreetMap</tspan></text>
</g>
</g>
<rect x="28.25" y="275" width="95.6" height="53" fill="#EAEAEA"/>
<text x="76.1" y="295.5" font-size="14.7" text-anchor="middle" fill="#1f1f1f" textLength="55.1" lengthAdjust="spacingAndGlyphs" stroke="#1f1f1f" stroke-width="0.35">Alastair</text>
<text x="76.1" y="319.5" font-size="14.7" text-anchor="middle" fill="#1f1f1f" textLength="32.2" lengthAdjust="spacingAndGlyphs" stroke="#1f1f1f" stroke-width="0.35">Gray</text>
<rect x="125.35" y="275" width="95.6" height="53" fill="#EAEAEA"/>
<text x="173.2" y="295.5" font-size="14.7" text-anchor="middle" fill="#1f1f1f" textLength="34.9" lengthAdjust="spacingAndGlyphs" stroke="#1f1f1f" stroke-width="0.35">Andy</text>
<text x="173.2" y="319.5" font-size="14.7" text-anchor="middle" fill="#1f1f1f" textLength="50.5" lengthAdjust="spacingAndGlyphs" stroke="#1f1f1f" stroke-width="0.35">Murray</text>
<rect x="222.45" y="275" width="95.6" height="53" fill="#EAEAEA"/>
<text x="270.4" y="295.5" font-size="14.7" text-anchor="middle" fill="#1f1f1f" textLength="64.1" lengthAdjust="spacingAndGlyphs" stroke="#1f1f1f" stroke-width="0.35">Cameron</text>
<text x="270.4" y="319.5" font-size="14.7" text-anchor="middle" fill="#1f1f1f" textLength="44.8" lengthAdjust="spacingAndGlyphs" stroke="#1f1f1f" stroke-width="0.35">Norrie</text>
<rect x="319.55" y="275" width="95.6" height="53" fill="#EAEAEA"/>
<text x="367.4" y="295.5" font-size="14.7" text-anchor="middle" fill="#1f1f1f" textLength="43.1" lengthAdjust="spacingAndGlyphs" stroke="#1f1f1f" stroke-width="0.35">Daniel</text>
<text x="367.4" y="319.5" font-size="14.7" text-anchor="middle" fill="#1f1f1f" textLength="42.2" lengthAdjust="spacingAndGlyphs" stroke="#1f1f1f" stroke-width="0.35">Evans</text>
<rect x="416.65" y="275" width="95.6" height="53" fill="#EAEAEA"/>
<text x="464.6" y="295.5" font-size="14.7" text-anchor="middle" fill="#1f1f1f" textLength="32.5" lengthAdjust="spacingAndGlyphs" stroke="#1f1f1f" stroke-width="0.35">Jack</text>
<text x="464.6" y="319.5" font-size="14.7" text-anchor="middle" fill="#1f1f1f" textLength="48.8" lengthAdjust="spacingAndGlyphs" stroke="#1f1f1f" stroke-width="0.35">Draper</text>
<rect x="513.75" y="264" width="95.6" height="11" fill="#3391AE"/>
<rect x="513.75" y="275" width="95.6" height="53" fill="#333333"/>
<text x="561.6" y="295.5" font-size="14.7" text-anchor="middle" fill="#ffffff" textLength="24.3" lengthAdjust="spacingAndGlyphs" stroke="#ffffff" stroke-width="0.35">Jan</text>
<text x="561.6" y="319.5" font-size="14.7" text-anchor="middle" fill="#ffffff" textLength="60.7" lengthAdjust="spacingAndGlyphs" stroke="#ffffff" stroke-width="0.35">Choinski</text>
<rect x="610.85" y="275" width="95.6" height="53" fill="#EAEAEA"/>
<text x="658.7" y="307.2" font-size="14.7" text-anchor="middle" fill="#1f1f1f" textLength="73.9" lengthAdjust="spacingAndGlyphs" stroke="#1f1f1f" stroke-width="0.35">Jay Clarke</text>
<rect x="707.95" y="275" width="95.6" height="53" fill="#EAEAEA"/>
<text x="755.8" y="295.5" font-size="14.7" text-anchor="middle" fill="#1f1f1f" textLength="34.4" lengthAdjust="spacingAndGlyphs" stroke="#1f1f1f" stroke-width="0.35">Liam</text>
<text x="755.8" y="319.5" font-size="14.7" text-anchor="middle" fill="#1f1f1f" textLength="49.8" lengthAdjust="spacingAndGlyphs" stroke="#1f1f1f" stroke-width="0.35">Broady</text>
<rect x="805.05" y="275" width="95.6" height="53" fill="#EAEAEA"/>
<text x="852.9" y="307.2" font-size="14.7" text-anchor="middle" fill="#1f1f1f" textLength="67.7" lengthAdjust="spacingAndGlyphs" stroke="#1f1f1f" stroke-width="0.35">Paul Jubb</text>
<rect x="902.15" y="275" width="95.6" height="53" fill="#EAEAEA"/>
<text x="950.0" y="295.5" font-size="14.7" text-anchor="middle" fill="#1f1f1f" textLength="34.0" lengthAdjust="spacingAndGlyphs" stroke="#1f1f1f" stroke-width="0.35">Ryan</text>
<text x="950.0" y="319.5" font-size="14.7" text-anchor="middle" fill="#1f1f1f" textLength="61.2" lengthAdjust="spacingAndGlyphs" stroke="#1f1f1f" stroke-width="0.35">Peniston</text>
<path d="M145.80,387.00A68.5,68.5 0 0 1 159.53,388.39L154.02,415.33A41,41 0 0 0 145.80,414.50Z" fill="#B3B3B3" stroke="#ffffff" stroke-width="0.65" stroke-linejoin="round"/>
<path d="M159.53,388.39A68.5,68.5 0 0 1 179.76,514.99L166.13,491.11A41,41 0 0 0 154.02,415.33Z" fill="#B3B3B3" stroke="#ffffff" stroke-width="0.65" stroke-linejoin="round"/>
<path d="M179.76,514.99A68.5,68.5 0 0 1 141.85,523.89L143.44,496.43A41,41 0 0 0 166.13,491.11Z" fill="#B3B3B3" stroke="#ffffff" stroke-width="0.65" stroke-linejoin="round"/>
<path d="M141.85,523.89A68.5,68.5 0 0 1 134.01,522.98L138.75,495.89A41,41 0 0 0 143.44,496.43Z" fill="#B3B3B3" stroke="#ffffff" stroke-width="0.65" stroke-linejoin="round"/>
<path d="M134.01,522.98A68.5,68.5 0 0 1 105.22,510.68L121.51,488.53A41,41 0 0 0 138.75,495.89Z" fill="#B3B3B3" stroke="#ffffff" stroke-width="0.65" stroke-linejoin="round"/>
<path d="M105.22,510.68A68.5,68.5 0 0 1 100.60,506.97L118.75,486.31A41,41 0 0 0 121.51,488.53Z" fill="#B3B3B3" stroke="#ffffff" stroke-width="0.65" stroke-linejoin="round"/>
<path d="M100.60,506.97A68.5,68.5 0 0 1 97.71,504.28L117.02,484.70A41,41 0 0 0 118.75,486.31Z" fill="#B3B3B3" stroke="#ffffff" stroke-width="0.65" stroke-linejoin="round"/>
<path d="M97.71,504.28A68.5,68.5 0 0 1 94.98,501.43L115.38,482.99A41,41 0 0 0 117.02,484.70Z" fill="#B3B3B3" stroke="#ffffff" stroke-width="0.65" stroke-linejoin="round"/>
<path d="M94.98,501.43A68.5,68.5 0 0 1 85.83,488.60L109.91,475.31A41,41 0 0 0 115.38,482.99Z" fill="#B3B3B3" stroke="#ffffff" stroke-width="0.65" stroke-linejoin="round"/>
<path d="M85.83,488.60A68.5,68.5 0 0 1 81.70,431.35L107.43,441.05A41,41 0 0 0 109.91,475.31Z" fill="#B3B3B3" stroke="#ffffff" stroke-width="0.65" stroke-linejoin="round"/>
<path d="M81.70,431.35A68.5,68.5 0 0 1 97.71,406.72L117.02,426.30A41,41 0 0 0 107.43,441.05Z" fill="#F2C80F" stroke="#ffffff" stroke-width="0.65" stroke-linejoin="round"/>
<path d="M97.71,406.72A68.5,68.5 0 0 1 103.64,401.51L120.57,423.18A41,41 0 0 0 117.02,426.30Z" fill="#F2C80F" stroke="#ffffff" stroke-width="0.65" stroke-linejoin="round"/>
<path d="M103.64,401.51A68.5,68.5 0 0 1 117.10,393.30L128.62,418.27A41,41 0 0 0 120.57,423.18Z" fill="#F2C80F" stroke="#ffffff" stroke-width="0.65" stroke-linejoin="round"/>
<path d="M117.10,393.30A68.5,68.5 0 0 1 132.07,388.39L137.58,415.33A41,41 0 0 0 128.62,418.27Z" fill="#F2C80F" stroke="#ffffff" stroke-width="0.65" stroke-linejoin="round"/>
<path d="M132.07,388.39A68.5,68.5 0 0 1 134.01,388.02L138.75,415.11A41,41 0 0 0 137.58,415.33Z" fill="#F2C80F" stroke="#ffffff" stroke-width="0.65" stroke-linejoin="round"/>
<path d="M134.01,388.02A68.5,68.5 0 0 1 135.96,387.71L139.91,414.92A41,41 0 0 0 138.75,415.11Z" fill="#F2C80F" stroke="#ffffff" stroke-width="0.65" stroke-linejoin="round"/>
<path d="M135.96,387.71A68.5,68.5 0 0 1 137.92,387.45L141.08,414.77A41,41 0 0 0 139.91,414.92Z" fill="#F2C80F" stroke="#ffffff" stroke-width="0.65" stroke-linejoin="round"/>
<path d="M137.92,387.45A68.5,68.5 0 0 1 141.85,387.11L143.44,414.57A41,41 0 0 0 141.08,414.77Z" fill="#F2C80F" stroke="#ffffff" stroke-width="0.65" stroke-linejoin="round"/>
<path d="M141.85,387.11A68.5,68.5 0 0 1 143.83,387.03L144.62,414.52A41,41 0 0 0 143.44,414.57Z" fill="#F2C80F" stroke="#ffffff" stroke-width="0.65" stroke-linejoin="round"/>
<path d="M143.83,387.03A68.5,68.5 0 0 1 145.80,387.00L145.80,414.50A41,41 0 0 0 144.62,414.52Z" fill="#F2C80F" stroke="#ffffff" stroke-width="0.65" stroke-linejoin="round"/>
<path d="M397.00,391.10A64.8,64.8 0 1 1 342.17,421.37L364.34,435.33A38.6,38.6 0 1 0 397.00,417.30Z" fill="#7A4624" stroke="#7A4624" stroke-width="0.3"/>
<path d="M342.17,421.37A64.8,64.8 0 0 1 391.40,391.34L393.67,417.44A38.6,38.6 0 0 0 364.34,435.33Z" fill="#4472B4" stroke="#4472B4" stroke-width="0.3"/>
<path d="M391.40,391.34A64.8,64.8 0 0 1 397.00,391.10L397.00,417.30A38.6,38.6 0 0 0 393.67,417.44Z" fill="#AA9678" stroke="#AA9678" stroke-width="0.3"/>
<path d="M632.60,391.40A64.5,64.5 0 0 1 650.93,517.74L643.54,492.81A38.5,38.5 0 0 0 632.60,417.40Z" fill="#F5820B" stroke="#F5820B" stroke-width="0.3"/>
<path d="M650.93,517.74A64.5,64.5 0 0 1 614.27,517.74L621.66,492.81A38.5,38.5 0 0 0 643.54,492.81Z" fill="#55F00F" stroke="#55F00F" stroke-width="0.3"/>
<path d="M614.27,517.74A64.5,64.5 0 0 1 583.52,414.05L603.31,430.92A38.5,38.5 0 0 0 621.66,492.81Z" fill="#F22B05" stroke="#F22B05" stroke-width="0.3"/>
<path d="M583.52,414.05A64.5,64.5 0 0 1 610.73,395.22L619.55,419.68A38.5,38.5 0 0 0 603.31,430.92Z" fill="#051EF5" stroke="#051EF5" stroke-width="0.3"/>
<path d="M610.73,395.22A64.5,64.5 0 0 1 625.18,391.83L628.17,417.66A38.5,38.5 0 0 0 619.55,419.68Z" fill="#FF19EB" stroke="#FF19EB" stroke-width="0.3"/>
<path d="M625.18,391.83A64.5,64.5 0 0 1 632.60,391.40L632.60,417.40A38.5,38.5 0 0 0 628.17,417.66Z" fill="#4D5A8C" stroke="#4D5A8C" stroke-width="0.3"/>
<text x="145.3" y="465.1" font-size="24.5" text-anchor="middle" fill="#0E1433" textLength="39.3" lengthAdjust="spacingAndGlyphs" stroke="#0E1433" stroke-width="0.7">218</text>
<text x="145.0" y="485.4" font-size="10.8" text-anchor="middle" font-weight="bold" fill="#1f1f1f" textLength="33.5" lengthAdjust="spacingAndGlyphs">Points</text>
<text x="118.2" y="381.8" font-size="8.7" text-anchor="end" font-weight="bold" fill="#2b2b2b" textLength="70.8" lengthAdjust="spacingAndGlyphs">M25 Notting... 0.5%</text>
<polyline fill="none" stroke="#8a8a8a" stroke-width="0.9" points="122.0,379.4 131.0,379.4 133.0,386.5"/>
<text x="91.8" y="392.1" font-size="8.7" text-anchor="end" font-weight="bold" fill="#2b2b2b" textLength="55.0" lengthAdjust="spacingAndGlyphs">M25 Bath 3.7%</text>
<polyline fill="none" stroke="#8a8a8a" stroke-width="0.9" points="95.9,389.7 104.4,389.7 109.2,395.5"/>
<text x="72.8" y="404.9" font-size="8.7" text-anchor="end" font-weight="bold" fill="#2b2b2b" textLength="59.1" lengthAdjust="spacingAndGlyphs">M15 Frankfurt...</text>
<text x="72.8" y="414.1" font-size="8.7" text-anchor="end" font-weight="bold" fill="#2b2b2b" textLength="17.1" lengthAdjust="spacingAndGlyphs">6.9%</text>
<polyline fill="none" stroke="#8a8a8a" stroke-width="0.9" points="76.3,406.0 85.5,406.0 91.0,411.0"/>
<text x="166.1" y="381.1" font-size="8.7" font-weight="bold" fill="#2b2b2b" textLength="73.5" lengthAdjust="spacingAndGlyphs">Banja Luka CH 3.2%</text>
<polyline fill="none" stroke="#8a8a8a" stroke-width="0.9" points="152.1,385.6 152.8,378.7 162.0,378.7"/>
<text x="213.9" y="399.6" font-size="8.7" font-weight="bold" fill="#2b2b2b" textLength="49.5" lengthAdjust="spacingAndGlyphs">Campinas CH</text>
<text x="213.9" y="409.4" font-size="8.7" font-weight="bold" fill="#2b2b2b" textLength="21.6" lengthAdjust="spacingAndGlyphs">38.5%</text>
<polyline fill="none" stroke="#8a8a8a" stroke-width="0.9" points="196.1,406.6 201.2,402.1 210.1,402.1"/>
<text x="58.4" y="474.7" font-size="8.7" text-anchor="end" font-weight="bold" fill="#2b2b2b" textLength="45.8" lengthAdjust="spacingAndGlyphs">Szczecin CH</text>
<text x="58.4" y="484.0" font-size="8.7" text-anchor="end" font-weight="bold" fill="#2b2b2b" textLength="21.6" lengthAdjust="spacingAndGlyphs">13.8%</text>
<polyline fill="none" stroke="#8a8a8a" stroke-width="0.9" points="62.1,477.5 71.5,477.5 77.6,475.4"/>
<text x="75.3" y="504.7" font-size="8.7" text-anchor="end" font-weight="bold" fill="#2b2b2b" textLength="44.4" lengthAdjust="spacingAndGlyphs">Oeiras 2 CH</text>
<text x="75.3" y="513.9" font-size="8.7" text-anchor="end" font-weight="bold" fill="#2b2b2b" textLength="17.6" lengthAdjust="spacingAndGlyphs">0.9%</text>
<polyline fill="none" stroke="#8a8a8a" stroke-width="0.9" points="78.6,507.1 87.9,507.1 93.2,502.3"/>
<text x="94.1" y="524.2" font-size="8.7" text-anchor="end" font-weight="bold" fill="#2b2b2b" textLength="50.1" lengthAdjust="spacingAndGlyphs">Maia CH 7.3%</text>
<polyline fill="none" stroke="#8a8a8a" stroke-width="0.9" points="97.6,522.1 106.9,522.1 110.3,516.3"/>
<text x="123.0" y="533.5" font-size="8.7" text-anchor="end" font-weight="bold" fill="#2b2b2b" textLength="57.7" lengthAdjust="spacingAndGlyphs">Lima 2 CH 1.8%</text>
<polyline fill="none" stroke="#8a8a8a" stroke-width="0.9" points="127.5,532.0 136.3,532.0 137.5,525.2"/>
<text x="175.2" y="532.6" font-size="8.7" font-weight="bold" fill="#2b2b2b" textLength="69.7" lengthAdjust="spacingAndGlyphs">Guayaquil CH 9.2%</text>
<polyline fill="none" stroke="#8a8a8a" stroke-width="0.9" points="161.2,523.8 163.5,530.8 171.7,530.8"/>
<text x="362.5" y="385.4" font-size="8.7" font-weight="bold" fill="#2b2b2b" textLength="18.3" lengthAdjust="spacingAndGlyphs">1.4%</text>
<polyline fill="none" stroke="#8a8a8a" stroke-width="0.9" points="384.1,383.1 393.9,383.1 394.3,389.2"/>
<text x="322.7" y="395.8" font-size="8.7" font-weight="bold" fill="#2b2b2b" textLength="23.1" lengthAdjust="spacingAndGlyphs">14.7%</text>
<polyline fill="none" stroke="#8a8a8a" stroke-width="0.9" points="349.5,393.4 359.1,393.4 362.5,398.9"/>
<text x="444.8" y="521.8" font-size="8.7" font-weight="bold" fill="#2b2b2b" textLength="24.4" lengthAdjust="spacingAndGlyphs">83.9%</text>
<polyline fill="none" stroke="#8a8a8a" stroke-width="0.9" points="428.5,513.5 431.5,519.1 440.9,519.1"/>
<text x="584.1" y="388.1" font-size="8.7" font-weight="bold" fill="#2b2b2b" textLength="18.9" lengthAdjust="spacingAndGlyphs">3.7%</text>
<polyline fill="none" stroke="#8a8a8a" stroke-width="0.9" points="606.7,385.3 616.1,385.3 618.0,391.8"/>
<text x="559.3" y="399.1" font-size="8.7" font-weight="bold" fill="#2b2b2b" textLength="18.6" lengthAdjust="spacingAndGlyphs">8.3%</text>
<polyline fill="none" stroke="#8a8a8a" stroke-width="0.9" points="582.3,396.3 591.6,396.3 595.5,401.5"/>
<text x="692.4" y="403.4" font-size="8.7" font-weight="bold" fill="#2b2b2b" textLength="25.1" lengthAdjust="spacingAndGlyphs">45.4%</text>
<polyline fill="none" stroke="#8a8a8a" stroke-width="0.9" points="676.2,405.3 680.9,400.6 689.1,400.6"/>
<text x="526.0" y="478.5" font-size="8.7" font-weight="bold" fill="#2b2b2b" textLength="23.7" lengthAdjust="spacingAndGlyphs">31.7%</text>
<polyline fill="none" stroke="#8a8a8a" stroke-width="0.9" points="554.4,476.3 563.5,476.3 569.5,474.3"/>
<text x="601.1" y="530.7" font-size="8.7" font-weight="bold" fill="#2b2b2b" textLength="17.9" lengthAdjust="spacingAndGlyphs">9.2%</text>
<polyline fill="none" stroke="#8a8a8a" stroke-width="0.9" points="623.1,528.0 632.2,528.0 632.8,520.8"/>
<circle cx="119.7" cy="561.1" r="4" fill="#B3B3B3"/>
<text x="125.3" y="564.4" font-size="9" font-weight="bold" fill="#2b2b2b" textLength="17.7" lengthAdjust="spacingAndGlyphs">Chal</text>
<circle cx="152.7" cy="561.1" r="4" fill="#F2C80F"/>
<text x="158.1" y="564.4" font-size="9" font-weight="bold" fill="#2b2b2b" textLength="13.0" lengthAdjust="spacingAndGlyphs">ITF</text>
<circle cx="348.3" cy="561.1" r="4" fill="#7A4624"/>
<text x="354.2" y="564.4" font-size="9" font-weight="bold" fill="#2b2b2b" textLength="16.7" lengthAdjust="spacingAndGlyphs">clay</text>
<circle cx="380.0" cy="561.1" r="4" fill="#4472B4"/>
<text x="385.9" y="564.4" font-size="9" font-weight="bold" fill="#2b2b2b" textLength="25.8" lengthAdjust="spacingAndGlyphs">indoor</text>
<circle cx="421.1" cy="561.1" r="4" fill="#AA9678"/>
<text x="426.9" y="564.4" font-size="9" font-weight="bold" fill="#2b2b2b" textLength="18.4" lengthAdjust="spacingAndGlyphs">hard</text>
<circle cx="557.1" cy="561.1" r="4" fill="#F5820B"/>
<text x="562.9" y="564.4" font-size="9" font-weight="bold" fill="#2b2b2b" textLength="7.3" lengthAdjust="spacingAndGlyphs">W</text>
<circle cx="579.2" cy="561.1" r="4" fill="#55F00F"/>
<text x="585.4" y="564.4" font-size="9" font-weight="bold" fill="#2b2b2b" textLength="10.5" lengthAdjust="spacingAndGlyphs">SF</text>
<circle cx="604.7" cy="561.1" r="4" fill="#F22B05"/>
<text x="610.7" y="564.4" font-size="9" font-weight="bold" fill="#2b2b2b" textLength="11.0" lengthAdjust="spacingAndGlyphs">QF</text>
<circle cx="630.5" cy="561.1" r="4" fill="#051EF5"/>
<text x="636.3" y="564.4" font-size="9" font-weight="bold" fill="#2b2b2b" textLength="15.7" lengthAdjust="spacingAndGlyphs">R16</text>
<circle cx="661.3" cy="561.1" r="4" fill="#FF19EB"/>
<text x="666.9" y="564.4" font-size="9" font-weight="bold" fill="#2b2b2b" textLength="15.8" lengthAdjust="spacingAndGlyphs">R32</text>
<circle cx="692.6" cy="561.1" r="4" fill="#4D5A8C"/>
<text x="698.2" y="564.4" font-size="9" font-weight="bold" fill="#2b2b2b" textLength="10.2" lengthAdjust="spacingAndGlyphs">Q2</text>
<text x="803.6" y="384.6" font-size="9.3" text-anchor="end" fill="#484644" textLength="27.6" lengthAdjust="spacingAndGlyphs">January</text>
<rect x="810.5" y="374.8" width="26.4" height="13.2" fill="#F2C80F"/>
<text x="843.1" y="385.3" font-size="9.3" font-weight="bold" fill="#2b2b2b" textLength="9.4" lengthAdjust="spacingAndGlyphs">16</text>
<text x="803.6" y="400.8" font-size="9.3" text-anchor="end" fill="#484644" textLength="31.7" lengthAdjust="spacingAndGlyphs">February</text>
<text x="803.6" y="417.0" font-size="9.3" text-anchor="end" fill="#484644" textLength="22.9" lengthAdjust="spacingAndGlyphs">March</text>
<text x="803.6" y="433.2" font-size="9.3" text-anchor="end" fill="#484644" textLength="17.0" lengthAdjust="spacingAndGlyphs">April</text>
<rect x="810.5" y="423.4" width="6.2" height="13.2" fill="#B3B3B3"/>
<rect x="816.7" y="423.4" width="4.2" height="13.2" fill="#F2C80F"/>
<text x="827.1" y="433.9" font-size="9.3" font-weight="bold" fill="#2b2b2b" textLength="4.7" lengthAdjust="spacingAndGlyphs">6</text>
<text x="803.6" y="449.4" font-size="9.3" text-anchor="end" fill="#484644" textLength="15.7" lengthAdjust="spacingAndGlyphs">May</text>
<rect x="810.5" y="439.6" width="2.5" height="13.2" fill="#F2C80F"/>
<text x="819.2" y="450.1" font-size="9.3" font-weight="bold" fill="#2b2b2b" textLength="4.7" lengthAdjust="spacingAndGlyphs">1</text>
<text x="803.6" y="465.5" font-size="9.3" text-anchor="end" fill="#484644" textLength="16.2" lengthAdjust="spacingAndGlyphs">June</text>
<text x="803.6" y="481.7" font-size="9.3" text-anchor="end" fill="#484644" textLength="13.8" lengthAdjust="spacingAndGlyphs">July</text>
<rect x="810.5" y="471.9" width="2.5" height="13.2" fill="#F2C80F"/>
<text x="819.2" y="482.4" font-size="9.3" font-weight="bold" fill="#2b2b2b" textLength="4.7" lengthAdjust="spacingAndGlyphs">1</text>
<text x="803.6" y="497.9" font-size="9.3" text-anchor="end" fill="#484644" textLength="25.7" lengthAdjust="spacingAndGlyphs">August</text>
<rect x="810.5" y="488.1" width="10.9" height="13.2" fill="#B3B3B3"/>
<rect x="821.4" y="488.1" width="29.3" height="13.2" fill="#F2C80F"/>
<text x="856.9" y="498.6" font-size="9.3" font-weight="bold" fill="#2b2b2b" textLength="9.4" lengthAdjust="spacingAndGlyphs">25</text>
<text x="803.6" y="514.1" font-size="9.3" text-anchor="end" fill="#484644" textLength="40.6" lengthAdjust="spacingAndGlyphs">September</text>
<rect x="810.5" y="504.3" width="48.1" height="13.2" fill="#B3B3B3"/>
<text x="864.8" y="514.8" font-size="9.3" font-weight="bold" fill="#2b2b2b" textLength="9.4" lengthAdjust="spacingAndGlyphs">30</text>
<text x="803.6" y="530.3" font-size="9.3" text-anchor="end" fill="#484644" textLength="30.4" lengthAdjust="spacingAndGlyphs">October</text>
<rect x="810.5" y="520.5" width="150.7" height="13.2" fill="#B3B3B3"/>
<text x="967.4" y="531.0" font-size="9.3" font-weight="bold" fill="#2b2b2b" textLength="9.4" lengthAdjust="spacingAndGlyphs">95</text>
<text x="803.6" y="546.5" font-size="9.3" text-anchor="end" fill="#484644" textLength="38.7" lengthAdjust="spacingAndGlyphs">November</text>
<rect x="810.5" y="536.7" width="38.5" height="13.2" fill="#B3B3B3"/>
<text x="855.2" y="547.2" font-size="9.3" font-weight="bold" fill="#2b2b2b" textLength="9.4" lengthAdjust="spacingAndGlyphs">24</text>
<text x="803.6" y="562.7" font-size="9.3" text-anchor="end" fill="#484644" textLength="37.8" lengthAdjust="spacingAndGlyphs">December</text>
<rect x="810.5" y="552.9" width="25.5" height="13.2" fill="#B3B3B3"/>
<rect x="836.0" y="552.9" width="6.8" height="13.2" fill="#F2C80F"/>
<text x="849.0" y="563.4" font-size="9.3" font-weight="bold" fill="#2b2b2b" textLength="9.4" lengthAdjust="spacingAndGlyphs">20</text>
</svg>
</body></html>
